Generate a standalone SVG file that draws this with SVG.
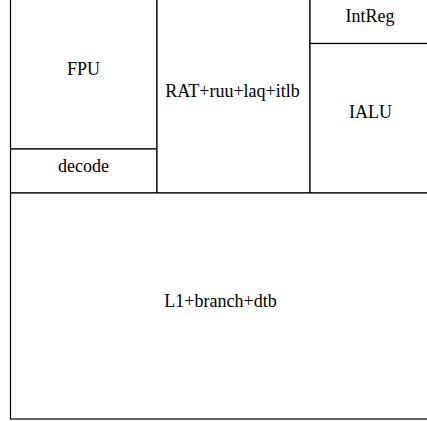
<svg xmlns="http://www.w3.org/2000/svg" width="427" height="421" viewBox="0 0 427 421">
  <style>
    .blk { fill: #fff; stroke: #000; stroke-width: 1.2; }
    .lbl { font-family: "Liberation Serif", "Times New Roman", serif; font-size: 18px; fill: #000; text-anchor: middle; }
  </style>
  <rect width="427" height="421" fill="#fff"/>
  <!-- floorplan blocks; top and right edges run off the canvas -->
  <g id="FPU">
    <rect class="blk" x="10.5" y="-20" width="146.5" height="169"/>
    <text class="lbl" x="83.5" y="75">FPU</text>
  </g>
  <g id="decode">
    <rect class="blk" x="10.5" y="149" width="146.5" height="44"/>
    <text class="lbl" x="83.5" y="172">decode</text>
  </g>
  <g id="RAT">
    <rect class="blk" x="157" y="-20" width="153" height="213"/>
    <text class="lbl" x="232.5" y="97">RAT+ruu+laq+itlb</text>
  </g>
  <g id="IntReg">
    <rect class="blk" x="310" y="-20" width="140" height="63.5"/>
    <text class="lbl" x="370" y="22">IntReg</text>
  </g>
  <g id="IALU">
    <rect class="blk" x="310" y="43.5" width="140" height="149.5"/>
    <text class="lbl" x="370.5" y="118">IALU</text>
  </g>
  <g id="L1">
    <rect class="blk" x="10.5" y="193" width="440" height="226"/>
    <text class="lbl" x="220.5" y="307">L1+branch+dtb</text>
  </g>
  <g id="connectors"/>
</svg>
